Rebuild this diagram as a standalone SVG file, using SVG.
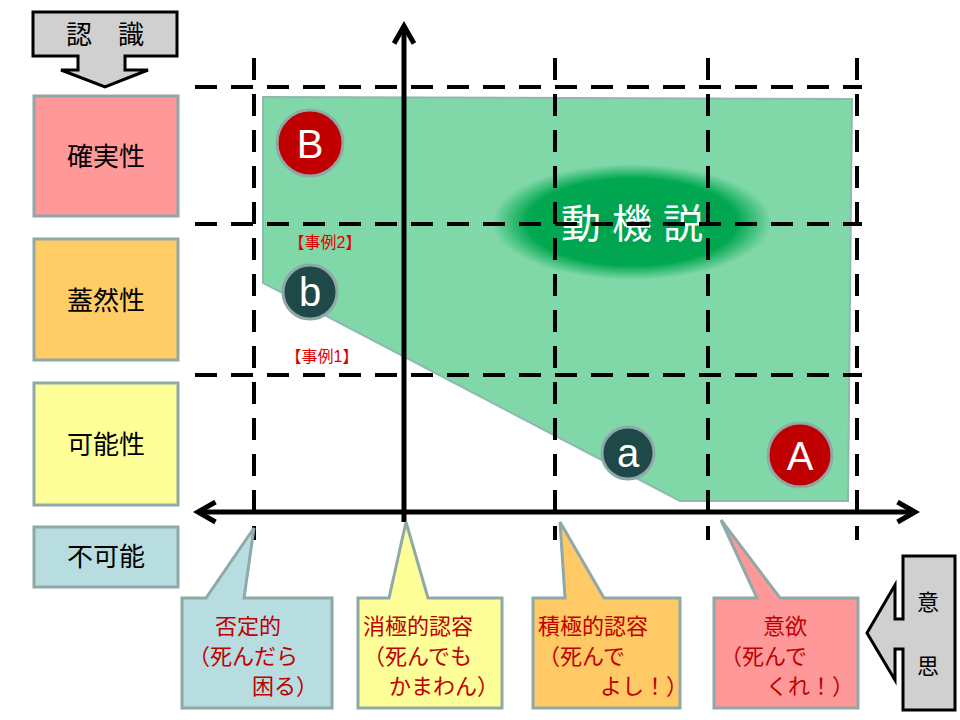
<svg xmlns="http://www.w3.org/2000/svg" width="960" height="720" viewBox="0 0 960 720">
<style>
.jp{font-family:"Liberation Sans","Noto Sans CJK JP",sans-serif}
.lbl{font-size:26px;fill:#000;text-anchor:middle}
.box{stroke:#8fa8a8;stroke-width:3}
.dash{stroke:#000;stroke-width:4;stroke-dasharray:22,14;fill:none}
.ct{font-size:22px;fill:#c00000}
.case{font-size:16px;fill:#e00000}
.circ{stroke:#8fa8a8;stroke-width:3}
.ltr{font-size:40px;fill:#fff;text-anchor:middle;font-family:"Liberation Sans",sans-serif}
</style>
<defs>
<radialGradient id="g"><stop offset="0" stop-color="#00a050"/><stop offset="0.75" stop-color="#00a850"/><stop offset="1" stop-color="#00a850" stop-opacity="0"/></radialGradient>
<marker id="ah" viewBox="0 0 10 10" refX="8" refY="5" markerWidth="5" markerHeight="5" orient="auto-start-reverse"><path d="M1,1 L8,5 L1,9" fill="none" stroke="#000" stroke-width="2"/></marker>
</defs>
<g id="ninshiki">
<polygon points="33,12 177,12 177,56 125,56 125,70 148,70 105,87 61,70 78,70 78,56 33,56" fill="#d0d0d0" stroke="#000" stroke-width="3"/>
<text x="105" y="44" class="jp" font-size="26" text-anchor="middle">認　識</text>
</g>
<g id="kakujitsu"><rect x="34" y="96" width="144" height="120" fill="#ff9999" class="box"/><text x="106" y="166" class="jp lbl">確実性</text></g>
<g id="gaizen"><rect x="34" y="239" width="144" height="121" fill="#ffcc66" class="box"/><text x="106" y="310" class="jp lbl">蓋然性</text></g>
<g id="kanou"><rect x="34" y="383" width="144" height="122" fill="#ffff99" class="box"/><text x="106" y="454" class="jp lbl">可能性</text></g>
<g id="fukanou"><rect x="34" y="527" width="144" height="60" fill="#b7dde0" class="box"/><text x="106" y="566" class="jp lbl">不可能</text></g>
<g id="region">
<polygon points="263,97 852,99 848,501 680,501 263,283" fill="#80d8a8" stroke="#8fb8b0" stroke-width="2"/>
<ellipse cx="632" cy="222" rx="140" ry="58" fill="url(#g)"/>
<text x="632" y="238" class="jp" font-size="40" fill="#fff" text-anchor="middle">動 機 説</text>
</g>
<g id="grid">
<line x1="195" y1="87" x2="862" y2="87" class="dash"/>
<line x1="195" y1="224" x2="862" y2="224" class="dash"/>
<line x1="195" y1="375" x2="862" y2="375" class="dash"/>
<line x1="254" y1="58" x2="254" y2="540" class="dash"/>
<line x1="555" y1="58" x2="555" y2="540" class="dash"/>
<line x1="708" y1="58" x2="708" y2="540" class="dash"/>
<line x1="857" y1="58" x2="857" y2="540" class="dash"/>
</g>
<g id="axes">
<line x1="404" y1="522" x2="404" y2="26" stroke="#000" stroke-width="5" marker-end="url(#ah)"/>
<line x1="198" y1="512" x2="915" y2="512" stroke="#000" stroke-width="5" marker-start="url(#ah)" marker-end="url(#ah)"/>
</g>
<g id="B"><circle cx="310" cy="143" r="33" fill="#c00000" class="circ"/><text x="310" y="158" class="ltr">B</text></g>
<g id="b"><circle cx="310" cy="292" r="27" fill="#1f4848" class="circ"/><text x="310" y="306" class="ltr">b</text></g>
<g id="a"><circle cx="628" cy="453" r="26" fill="#1f4848" class="circ"/><text x="628" y="467" class="ltr">a</text></g>
<g id="A"><circle cx="800" cy="455" r="32" fill="#c00000" class="circ"/><text x="800" y="470" class="ltr">A</text></g>
<text x="325" y="248" class="jp case" text-anchor="middle">【事例2】</text>
<text x="322" y="362" class="jp case" text-anchor="middle">【事例1】</text>
<g id="c1"><polygon points="182,598 206,598 254,528 244,598 332,598 332,708 182,708" fill="#b7dde0" class="box"/>
<text class="jp ct"><tspan x="215" y="634">否定的</tspan><tspan x="188" y="664">（死んだら</tspan><tspan x="252" y="694">困る）</tspan></text></g>
<g id="c2"><polygon points="358,598 389,598 406,522 428,598 502,598 502,708 358,708" fill="#ffff99" class="box"/>
<text class="jp ct"><tspan x="363" y="634">消極的認容</tspan><tspan x="363" y="664">（死んでも</tspan><tspan x="389" y="694">かまわん）</tspan></text></g>
<g id="c3"><polygon points="533,598 565,598 560,522 604,598 680,598 680,708 533,708" fill="#ffc966" class="box"/>
<text class="jp ct"><tspan x="538" y="634">積極的認容</tspan><tspan x="538" y="664">（死んで</tspan><tspan x="600" y="694">よし！）</tspan></text></g>
<g id="c4"><polygon points="714,598 757,598 721,520 780,598 858,598 858,708 714,708" fill="#ff9999" class="box"/>
<text class="jp ct"><tspan x="763" y="634">意欲</tspan><tspan x="720" y="664">（死んで</tspan><tspan x="766" y="694">くれ！）</tspan></text></g>
<g id="ishi">
<polygon points="955,556 903,556 903,619 895,619 895,585 867,633 895,680 895,649 903,649 903,710 955,710" fill="#d0d0d0" stroke="#000" stroke-width="3"/>
<text x="928" y="610" class="jp" font-size="22" text-anchor="middle">意</text>
<text x="928" y="674" class="jp" font-size="22" text-anchor="middle">思</text>
</g>
</svg>
